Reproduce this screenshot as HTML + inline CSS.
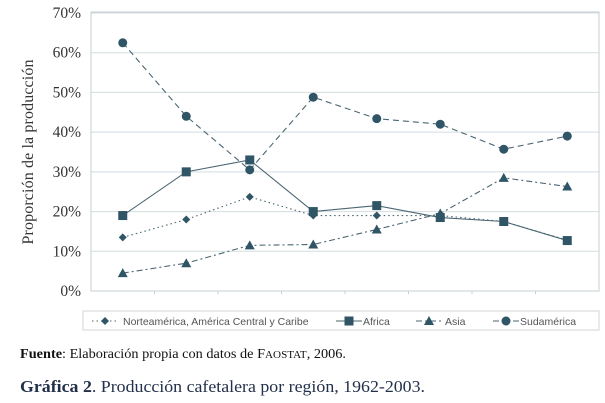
<!DOCTYPE html>
<html><head><meta charset="utf-8"><style>
body{margin:0;background:#fff;width:605px;height:403px;overflow:hidden;font-family:"Liberation Serif",serif}
</style></head><body>
<svg width="605" height="403" style="position:absolute;left:0;top:0">
<g id="grid"></g><g id="series"></g><g id="legend"></g>
<text transform="translate(33,152) rotate(-90)" text-anchor="middle" font-size="16" fill="#333" font-family="Liberation Serif" textLength="185" lengthAdjust="spacing">Proporción de la producción</text>
<text x="20" y="358" font-size="13.5" fill="#111" textLength="326" lengthAdjust="spacingAndGlyphs"><tspan font-weight="bold">Fuente</tspan>: Elaboración propia con datos de F<tspan font-size="10.5">AOSTAT</tspan>, 2006.</text>
<text x="20" y="392" font-size="17" fill="#22304a" textLength="405" lengthAdjust="spacingAndGlyphs"><tspan font-weight="bold">Gráfica 2</tspan>. Producción cafetalera por región, 1962-2003.</text>
</svg>
<script>
const categories=["1962","1968","1974","1980","1986","1992","1998","2003"];
const norte=[13.5,18,23.7,19,19,19,17.5,12.8];
const africa=[19,30,33,20,21.5,18.5,17.5,12.7];
const asia=[4.5,7,11.5,11.7,15.5,19.5,28.5,26.3];
const sud=[62.5,44,30.5,48.8,43.4,42,35.7,39];
const yTicks=[0,10,20,30,40,50,60,70];
const NS="http://www.w3.org/2000/svg";
const L=91,R=599,T=13,B=291,C="#2f5566";
const x=i=>L+(R-L)/categories.length*(i+0.5);
const y=v=>B-(B-T)*v/70;
function mk(t,a,p){const e=document.createElementNS(NS,t);for(const k in a)e.setAttribute(k,a[k]);p.appendChild(e);return e;}
const g=document.getElementById('grid');
yTicks.forEach(v=>{
 if(v>0){const l=mk('line',{x1:L,x2:R,y1:y(v),y2:y(v),stroke:'#d4dde0','stroke-width':1},g);
 
 }
 const t=mk('text',{x:81,y:y(v)+5,'text-anchor':'end','font-size':15.5,fill:'#333'},g);t.textContent=v+'%';
 
 
});
const ax=mk('path',{d:`M${L},${T-1}V${B}H${R}V${T-1}H${L}`,fill:'none',stroke:'#c5d0d4'},g);


for(let i=1;i<categories.length;i++){mk('line',{x1:L+(R-L)/8*i,x2:L+(R-L)/8*i,y1:B,y2:B+3,stroke:'#c5d0d4'},g);}
function marker(type,cx,cy,p){
 if(type==='d')return mk('path',{d:`M${cx},${cy-4}L${cx+4},${cy}L${cx},${cy+4}L${cx-4},${cy}Z`,fill:C},p);
 if(type==='s')return mk('rect',{x:cx-4.5,y:cy-4.5,width:9,height:9,fill:C},p);
 if(type==='t')return mk('path',{d:`M${cx},${cy-5}L${cx+5},${cy+4}L${cx-5},${cy+4}Z`,fill:C},p);
 return mk('circle',{cx,cy,r:4.5,fill:C},p);
}
const S=[
 {name:'norte',data:norte,dash:'1.5,3',m:'d',label:'Norteamérica, América Central y Caribe'},
 {name:'africa',data:africa,dash:'',m:'s',label:'Africa'},
 {name:'asia',data:asia,dash:'6,3,2,3',m:'t',label:'Asia'},
 {name:'sudamerica',data:sud,dash:'6,4',m:'c',label:'Sudamérica'}];
const sg=document.getElementById('series');
S.forEach(s=>{
 const p=mk('polyline',{points:s.data.map((v,i)=>x(i)+','+y(v)).join(' '),fill:'none',stroke:'#4a6672','stroke-width':1.1,'stroke-dasharray':s.dash},sg);
 
 
 s.data.forEach((v,i)=>{const m=marker(s.m,x(i),y(v),sg);
  
  });
});
const lg=document.getElementById('legend');
const box=mk('rect',{x:83,y:311,width:516,height:19,fill:'#fff',stroke:'#d0d6d8'},lg);


const lx=[92,336,416,493],tx=[123,363,445,520];
S.forEach((s,i)=>{
 mk('line',{x1:lx[i],x2:lx[i]+26,y1:321,y2:321,stroke:'#4a6672','stroke-dasharray':s.dash},lg);
 marker(s.m,lx[i]+13,321,lg);
 const t=mk('text',{x:tx[i],y:325,'font-size':10.5,fill:'#555','font-family':'Liberation Sans'},lg);t.textContent=s.label;
 
 
});
</script>
</body></html>
